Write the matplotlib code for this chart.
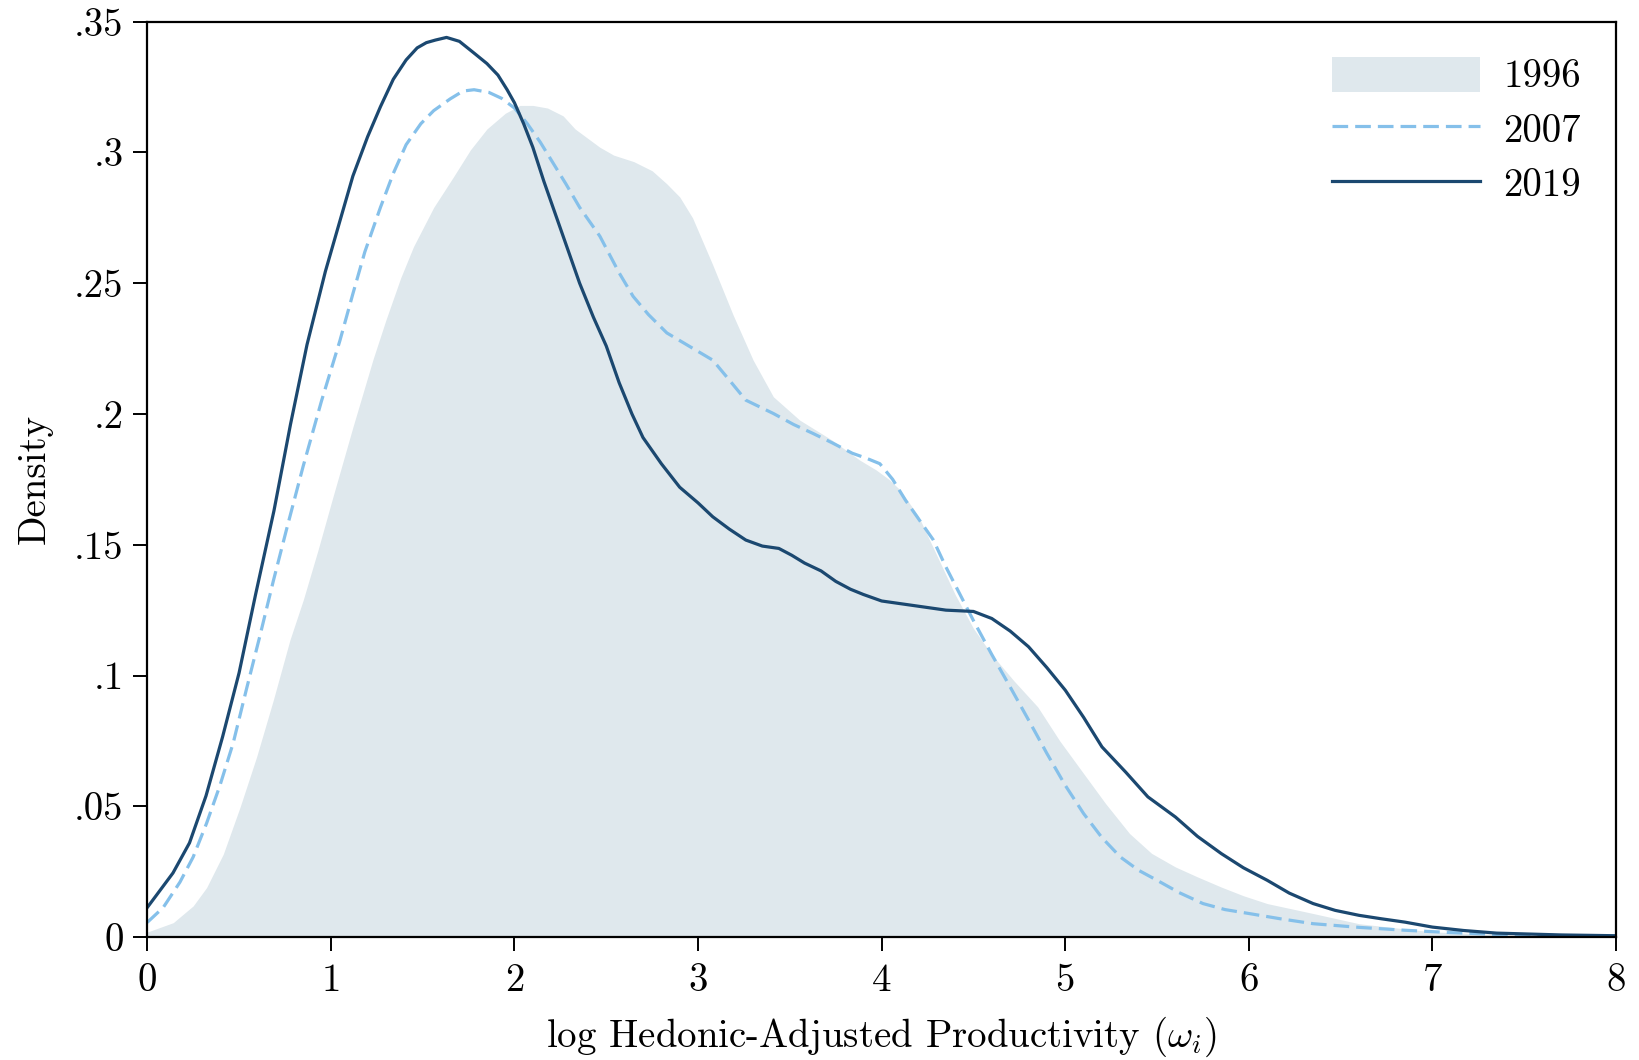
import matplotlib
matplotlib.use("Agg")
import matplotlib.pyplot as plt

plt.rcParams['font.family'] = ['cmr10', 'DejaVu Serif']
plt.rcParams['mathtext.fontset'] = 'cm'
plt.rcParams['axes.unicode_minus'] = False

# 1996 (shaded)
x1996 = [0, 0.1416, 0.25, 0.323, 0.414, 0.505, 0.595, 0.686, 0.777, 0.85, 0.93, 1.01, 1.12,
         1.23, 1.30, 1.38, 1.45, 1.56, 1.666, 1.76, 1.85, 1.95, 2.03, 2.10, 2.18, 2.265, 2.33,
         2.465, 2.54, 2.65, 2.75, 2.83, 2.90, 2.97, 3.08, 3.19, 3.30, 3.41, 3.553, 3.73, 3.88,
         3.97, 4.04, 4.10, 4.2, 4.28, 4.4, 4.5, 4.6, 4.72, 4.85, 4.97, 5.1, 5.22, 5.35, 5.47,
         5.6, 5.72, 5.85, 5.97, 6.1, 6.35, 6.6, 6.8, 7.0, 7.5, 8.0]
y1996 = [0.0019, 0.0055, 0.0119, 0.0189, 0.0317, 0.0496, 0.0688, 0.0905, 0.1136, 0.129, 0.148,
         0.168, 0.195, 0.221, 0.236, 0.252, 0.264, 0.279, 0.2905, 0.301, 0.309, 0.315, 0.318,
         0.318, 0.317, 0.314, 0.309, 0.302, 0.299, 0.2965, 0.293, 0.288, 0.283, 0.275, 0.257,
         0.238, 0.2206, 0.2066, 0.1977, 0.190, 0.1824, 0.1786, 0.175, 0.171, 0.161, 0.149,
         0.131, 0.118, 0.108, 0.098, 0.088, 0.075, 0.0625, 0.051, 0.0396, 0.032, 0.0268, 0.023,
         0.0191, 0.0158, 0.0128, 0.009, 0.0051, 0.0035, 0.002, 0.0005, 0.0001]

# 2007 (dashed)
x2007 = [0, 0.087, 0.178, 0.25, 0.323, 0.396, 0.468, 0.541, 0.613, 0.686, 0.759, 0.849, 0.949,
         1.049, 1.12, 1.185, 1.27, 1.34, 1.41, 1.49, 1.56, 1.65, 1.72, 1.78, 1.86, 1.93, 2.0,
         2.07, 2.14, 2.21, 2.28, 2.355, 2.465, 2.57, 2.646, 2.73, 2.83, 2.95, 3.08, 3.17, 3.26,
         3.41, 3.52, 3.625, 3.73, 3.84, 3.92, 3.99, 4.06, 4.13, 4.2, 4.28, 4.35, 4.5, 4.6, 4.7,
         4.8, 4.9, 5.0, 5.1, 5.2, 5.3, 5.4, 5.5, 5.62, 5.75, 5.87, 6.0, 6.17, 6.35, 6.6, 6.85,
         7.1, 7.35, 8.0]
y2007 = [0.0056, 0.0113, 0.021, 0.0306, 0.0435, 0.058, 0.0742, 0.095, 0.115, 0.136, 0.156, 0.180,
         0.205, 0.228, 0.246, 0.262, 0.279, 0.292, 0.303, 0.311, 0.316, 0.3205, 0.3235, 0.324,
         0.323, 0.3207, 0.317, 0.311, 0.304, 0.296, 0.288, 0.279, 0.268, 0.254, 0.245, 0.238,
         0.231, 0.226, 0.2206, 0.213, 0.2053, 0.2002, 0.196, 0.1926, 0.189, 0.185, 0.183, 0.181,
         0.175, 0.167, 0.160, 0.152, 0.1415, 0.121, 0.108, 0.0956, 0.083, 0.0702, 0.058, 0.0472,
         0.038, 0.0306, 0.0255, 0.0217, 0.017, 0.0128, 0.0105, 0.009, 0.007, 0.0051, 0.0037,
         0.0026, 0.0017, 0.001, 0.0002]

# 2019 (solid)
x2019 = [0, 0.05, 0.14, 0.23, 0.32, 0.41, 0.50, 0.59, 0.69, 0.78, 0.87, 0.97, 1.05, 1.12, 1.20,
         1.27, 1.34, 1.41, 1.47, 1.52, 1.57, 1.63, 1.70, 1.78, 1.85, 1.91, 1.96, 2.0, 2.05, 2.10,
         2.16, 2.21, 2.28, 2.355, 2.43, 2.50, 2.57, 2.64, 2.70, 2.80, 2.90, 3.00, 3.08, 3.17,
         3.26, 3.35, 3.44, 3.51, 3.58, 3.67, 3.75, 3.83, 3.9, 4.0, 4.1, 4.2, 4.35, 4.5, 4.6, 4.7,
         4.8, 4.9, 5.0, 5.1, 5.2, 5.33, 5.45, 5.6, 5.72, 5.85, 5.97, 6.1, 6.22, 6.35, 6.47, 6.6,
         6.72, 6.85, 7.0, 7.17, 7.35, 7.7, 8.0]
y2019 = [0.0113, 0.016, 0.0245, 0.036, 0.054, 0.0765, 0.101, 0.131, 0.163, 0.196, 0.2265, 0.2545,
         0.274, 0.291, 0.306, 0.3175, 0.328, 0.3354, 0.340, 0.342, 0.343, 0.344, 0.3425, 0.338,
         0.334, 0.3296, 0.324, 0.319, 0.311, 0.302, 0.289, 0.279, 0.265, 0.250, 0.237, 0.226,
         0.212, 0.200, 0.191, 0.181, 0.172, 0.166, 0.1607, 0.156, 0.1518, 0.1495, 0.1486, 0.146,
         0.143, 0.140, 0.136, 0.133, 0.131, 0.1285, 0.1275, 0.1265, 0.125, 0.1245, 0.1218,
         0.117, 0.111, 0.103, 0.0944, 0.084, 0.0727, 0.063, 0.0536, 0.0459, 0.0385, 0.0319,
         0.0265, 0.0217, 0.0168, 0.0128, 0.0102, 0.0083, 0.0070, 0.0057, 0.0038, 0.0025, 0.0015,
         0.0008, 0.0005]

xticks = [0, 1, 2, 3, 4, 5, 6, 7, 8]
yticks = [0, 0.05, 0.1, 0.15, 0.2, 0.25, 0.3, 0.35]
ytick_labels = ["0", ".05", ".1", ".15", ".2", ".25", ".3", ".35"]

fig = plt.figure(figsize=(16.4, 10.6), dpi=100)
ax = fig.add_axes([0.0898, 0.116, 0.8956, 0.8635])

ax.fill_between(x1996, 0, y1996, color='#dfe8ed', linewidth=0, label='1996')
ax.plot(x2007, y2007, color='#85c0ea', lw=2.3, dashes=(4.9, 2.2), label='2007')
ax.plot(x2019, y2019, color='#1b4870', lw=2.3, label='2019')

ax.set_xlim(0, 8)
ax.set_ylim(0, 0.35)
ax.set_xticks(xticks)
ax.set_xticklabels([str(t) for t in xticks])
ax.set_yticks(yticks)
ax.set_yticklabels(ytick_labels)
ax.tick_params(direction='out', length=10, width=1.4, labelsize=28)
ax.tick_params(axis='x', pad=9)
ax.tick_params(axis='y', pad=7)
for s in ax.spines.values():
    s.set_linewidth(1.6)

ax.set_xlabel(r'log Hedonic-Adjusted Productivity ($\omega_i$)', fontsize=28, labelpad=11)
ax.set_ylabel('Density', fontsize=28, labelpad=15)

leg = ax.legend(loc='upper right', frameon=False, fontsize=28, handlelength=3.8,
                handleheight=1.0, handletextpad=0.6, labelspacing=0.4,
                borderaxespad=0.5)

fig.savefig('out.png', dpi=100)
